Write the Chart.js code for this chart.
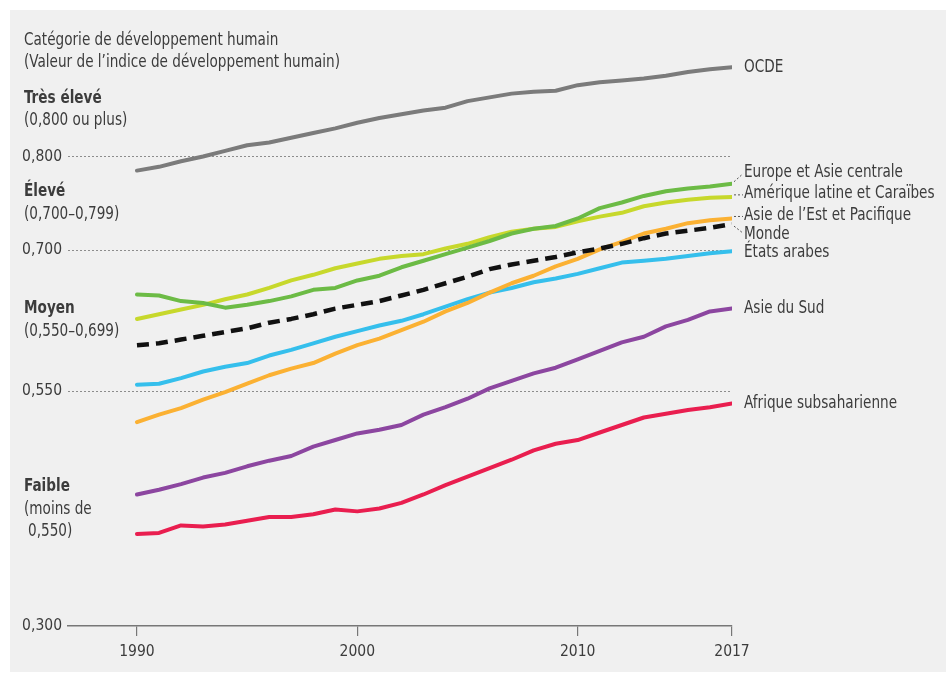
<!DOCTYPE html>
<html><head><meta charset="utf-8">
<script src="https://cdn.jsdelivr.net/npm/chart.js@4"></script>
<style>html,body{margin:0;padding:0;background:#fff;}#wrap{position:absolute;left:0;top:0;width:951px;height:677px;}</style>
</head><body><div id="wrap"><canvas id="c" width="951" height="677"></canvas></div>
<script>
const years = [1990,1991,1992,1993,1994,1995,1996,1997,1998,1999,2000,2001,2002,2003,2004,2005,2006,2007,2008,2009,2010,2011,2012,2013,2014,2015,2016,2017];
const ocde = [0.785,0.789,0.795,0.800,0.806,0.812,0.815,0.820,0.825,0.830,0.836,0.841,0.845,0.849,0.852,0.859,0.863,0.867,0.869,0.870,0.876,0.879,0.881,0.883,0.886,0.890,0.893,0.895];
const europe = [0.653,0.652,0.646,0.644,0.639,0.642,0.646,0.651,0.658,0.660,0.668,0.673,0.682,0.689,0.696,0.703,0.710,0.718,0.723,0.726,0.734,0.745,0.751,0.758,0.763,0.766,0.768,0.771];
const amerique = [0.627,0.632,0.637,0.642,0.648,0.653,0.660,0.668,0.674,0.681,0.686,0.691,0.694,0.696,0.702,0.707,0.714,0.720,0.723,0.725,0.731,0.736,0.740,0.747,0.751,0.754,0.756,0.757];
const asieEst = [0.517,0.525,0.532,0.541,0.549,0.558,0.567,0.574,0.580,0.590,0.599,0.606,0.615,0.624,0.635,0.644,0.655,0.665,0.673,0.683,0.691,0.701,0.709,0.718,0.723,0.729,0.732,0.734];
const monde = [0.599,0.601,0.605,0.609,0.613,0.617,0.623,0.627,0.632,0.638,0.642,0.646,0.652,0.658,0.665,0.672,0.680,0.685,0.689,0.693,0.698,0.702,0.707,0.713,0.718,0.721,0.724,0.728];
const etatsArabes = [0.557,0.558,0.564,0.571,0.576,0.580,0.588,0.594,0.601,0.608,0.614,0.620,0.625,0.632,0.640,0.648,0.655,0.660,0.666,0.670,0.675,0.681,0.687,0.689,0.691,0.694,0.697,0.699];
const asieSud = [0.440,0.445,0.451,0.458,0.463,0.470,0.476,0.481,0.491,0.498,0.505,0.509,0.514,0.525,0.533,0.542,0.553,0.561,0.569,0.575,0.584,0.593,0.602,0.608,0.619,0.626,0.635,0.638];
const afrique = [0.398,0.399,0.407,0.406,0.408,0.412,0.416,0.416,0.419,0.424,0.422,0.425,0.431,0.440,0.450,0.459,0.468,0.477,0.487,0.494,0.498,0.506,0.514,0.522,0.526,0.530,0.533,0.537];
const yTickValues = [0.300,0.550,0.700,0.800];
const xTickValues = [1990,2000,2010,2017];

const FONT = "'Liberation Sans Narrow','DejaVu Sans Condensed','Roboto',sans-serif";
const TXT = '#3c3c3c';
const SX = 0.89;

function pts(arr){ return arr.map((v,i)=>({x:years[i], y:v})); }
const series = [
  {label:'Monde', data:monde, color:'#111111', dash:[12,7], off:10},
  {label:'OCDE', data:ocde, color:'#7b7b7b', off:0},
  {label:'Europe et Asie centrale', data:europe, color:'#6cbb45', off:-11},
  {label:'Amérique latine et Caraïbes', data:amerique, color:'#c7d82c', off:-3},
  {label:'Asie de l’Est et Pacifique', data:asieEst, color:'#fbb133', off:-3},
  {label:'États arabes', data:etatsArabes, color:'#35bfec', off:1},
  {label:'Asie du Sud', data:asieSud, color:'#8c46a0', off:0},
  {label:'Afrique subsaharienne', data:afrique, color:'#e91e4f', off:0}
];

function drawText(c, t, x, y, font){
  c.save();
  c.font = font;
  c.translate(x, y);
  c.scale(SX, 1);
  c.fillText(t, 0, 0);
  c.restore();
}

const bgPlugin = {
  id:'bg',
  beforeDraw(chart){
    const c = chart.ctx;
    c.save();
    c.fillStyle='#ffffff'; c.fillRect(0,0,chart.width,chart.height);
    c.fillStyle='#f0f0f0'; c.fillRect(10,10,936,662);
    c.restore();
  }
};

const textPlugin = {
  id:'texts',
  afterDraw(chart){
    const c = chart.ctx;
    c.save();
    c.fillStyle = TXT;
    c.textBaseline = 'middle';
    c.textAlign = 'left';
    const reg = '17px '+FONT, bold = 'bold 17px '+FONT;
    const items = [
      ['Catégorie de développement humain',24,41,reg],
      ['(Valeur de l’indice de développement humain)',24,63,reg],
      ['Très élevé',24,99,bold],
      ['(0,800 ou plus)',24,121,reg],
      ['Élevé',24,192,bold],
      ['(0,700–0,799)',24,215,reg],
      ['Moyen',24,309,bold],
      ['(0,550–0,699)',24,332,reg],
      ['Faible',24,487,bold],
      ['(moins de',24,510,reg],
      ['0,550)',28,532,reg]
    ];
    items.forEach(([t,x,y,f])=>drawText(c,t,x,y,f));
    const area = chart.chartArea;
    chart.data.datasets.forEach((ds,i)=>{
      const meta = chart.getDatasetMeta(i);
      const last = meta.data[meta.data.length-1];
      const ly = last.y + ds.labelOff;
      const lx = area.right + 12;
      if (Math.abs(ds.labelOff) > 1) {
        c.save();
        c.strokeStyle = '#555'; c.lineWidth = 1; c.setLineDash([2,2]);
        c.beginPath();
        c.moveTo(last.x + 2, last.y + (ds.labelOff>0?2:-2));
        c.lineTo(lx - 1, ly + (ds.labelOff>0?-1:1));
        c.stroke();
        c.restore();
      }
      c.fillStyle = TXT;
      drawText(c, ds.label, lx, ly, reg);
    });
    c.restore();
  }
};

new Chart(document.getElementById('c'), {
  type:'line',
  data:{
    datasets: series.map(s=>({
      label:s.label,
      data:pts(s.data),
      borderColor:s.color,
      backgroundColor:s.color,
      borderWidth:s.dash ? 4.5 : 4,
      borderDash:s.dash||[],
      borderCapStyle: s.dash ? 'butt' : 'round',
      borderJoinStyle:'round',
      pointRadius:0,
      tension:0,
      fill:false,
      labelOff:s.off
    }))
  },
  options:{
    responsive:false,
    animation:false,
    devicePixelRatio:1,
    layout:{padding:{left:0,right:219,top:15.7,bottom:8.5}},
    plugins:{legend:{display:false},tooltip:{enabled:false}},
    scales:{
      x:{
        type:'linear', min:1986.87, max:2017,
        afterBuildTicks(s){ s.ticks = xTickValues.map(v=>({value:v})); },
        ticks:{ color:TXT, font:{family:FONT,size:15.5}, padding:7, maxRotation:0, autoSkip:false, callback:v=>String(v) },
        grid:{ drawOnChartArea:false, drawTicks:true, tickLength:10, color:'#777', lineWidth:1.2 },
        border:{ display:true, color:'#777', width:1.5 }
      },
      y:{
        type:'linear', min:0.3, max:0.95,
        afterBuildTicks(s){ s.ticks = yTickValues.map(v=>({value:v})); },
        afterFit(s){ s.width = 68; },
        ticks:{ color:TXT, font:{family:FONT,size:15.5}, padding:6, autoSkip:false, callback:v=>v.toFixed(3).replace('.',',') },
        grid:{ drawTicks:false, color:(ctx)=> (ctx.tick && ctx.tick.value===0.3) ? 'rgba(0,0,0,0)' : '#8c8c8c', lineWidth:1 },
        border:{ display:false, dash:[2,2] }
      }
    }
  },
  plugins:[bgPlugin,textPlugin]
});
</script>
</body></html>
